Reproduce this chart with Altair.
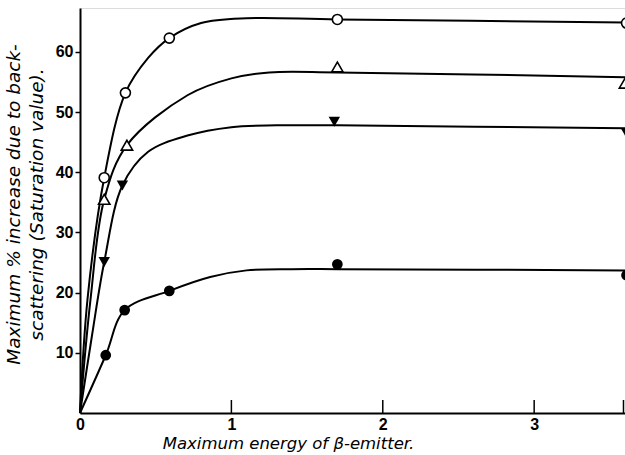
import altair as alt
import pandas as pd

# Measured points for the four absorber series (energy in MeV, % increase)
open_circle_x = [0.16, 0.30, 0.59, 1.70, 3.61]
open_circle_y = [39.1, 53.2, 62.3, 65.4, 64.8]

open_triangle_x = [0.16, 0.31, 1.70, 3.60]
open_triangle_y = [35.5, 44.5, 57.5, 54.8]

filled_triangle_x = [0.16, 0.28, 1.68, 3.61]
filled_triangle_y = [25.1, 37.8, 48.4, 46.5]

filled_circle_x = [0.17, 0.295, 0.59, 1.70, 3.61]
filled_circle_y = [9.6, 17.1, 20.3, 24.7, 22.9]

# Hand-drawn saturation curves through the points
curve_a_x = [0, 0.05, 0.16, 0.30, 0.45, 0.59, 0.80, 1.10, 1.70, 3.60]
curve_a_y = [0, 19.0, 39.1, 53.2, 59.0, 62.3, 64.8, 65.6, 65.4, 64.9]

curve_b_x = [0, 0.07, 0.16, 0.31, 0.71, 1.00, 1.25, 1.70, 3.60]
curve_b_y = [0, 19.0, 35.5, 44.5, 52.8, 55.6, 56.6, 56.6, 55.8]

curve_c_x = [0, 0.08, 0.16, 0.28, 0.45, 0.71, 1.00, 1.30, 1.70, 3.60]
curve_c_y = [0, 13.0, 25.1, 37.8, 43.4, 46.1, 47.5, 47.8, 47.8, 47.3]

curve_d_x = [0, 0.17, 0.295, 0.59, 0.86, 1.10, 1.40, 1.70, 3.60]
curve_d_y = [0, 9.6, 17.1, 20.3, 22.6, 23.7, 23.9, 23.9, 23.7]

x_tick_values = [1, 2, 3, 3.59]
x_label_values = [0, 1, 2, 3]
y_tick_values = [10, 20, 30, 40, 50, 60]

X_MAX = 3.6
Y_MAX = 67.3
W, H = 545, 405

curves = pd.concat([
    pd.DataFrame({"e": curve_a_x, "p": curve_a_y, "s": "a"}),
    pd.DataFrame({"e": curve_b_x, "p": curve_b_y, "s": "b"}),
    pd.DataFrame({"e": curve_c_x, "p": curve_c_y, "s": "c"}),
    pd.DataFrame({"e": curve_d_x, "p": curve_d_y, "s": "d"}),
])

x_enc = alt.X(
    "e:Q",
    scale=alt.Scale(domain=[0, X_MAX], nice=False, zero=False),
    axis=alt.Axis(
        values=x_label_values,
        format="d",
        ticks=False,
        grid=False,
        domainColor="black",
        domainWidth=2,
        labelFont="Liberation Sans",
        labelFontWeight="bold",
        labelFontSize=16,
        labelColor="black",
        labelPadding=3,
        labelFlush=False,
        title="Maximum energy of β-emitter.",
        titleFont="DejaVu Sans",
        titleFontStyle="italic",
        titleFontWeight="normal",
        titleFontSize=16.5,
        titleColor="black",
        titleAnchor="start",
        titleAlign="center",
        titleX=208,
        titleY=35,
        titleBaseline="alphabetic",
    ),
)
y_enc = alt.Y(
    "p:Q",
    scale=alt.Scale(domain=[0, Y_MAX], nice=False, zero=False),
    axis=alt.Axis(
        values=y_tick_values,
        format="d",
        tickSize=5,
        tickWidth=1.5,
        tickColor="black",
        grid=False,
        domainColor="black",
        domainWidth=2,
        labelFont="Liberation Sans",
        labelFontWeight="bold",
        labelFontSize=16,
        labelColor="black",
        labelPadding=2,
        title=["Maximum % increase due to back-", "scattering (Saturation value)."],
        titleFont="DejaVu Sans",
        titleFontStyle="italic",
        titleFontWeight="normal",
        titleFontSize=18.5,
        titleColor="black",
        titleLineHeight=23,
        titleAngle=-90,
        titleAlign="center",
        titleBaseline="top",
        titleAnchor="start",
        titleX=-76,
        titleY=196,
    ),
)

lines = alt.Chart(curves).mark_line(
    color="black", strokeWidth=2, interpolate="catmull-rom"
).encode(x=x_enc, y=y_enc, detail="s:N")


def pts(xs, ys, shape, filled, size):
    df = pd.DataFrame({"e": xs, "p": ys})
    return alt.Chart(df).mark_point(
        shape=shape,
        filled=filled,
        size=size,
        color="black",
        fill="black" if filled else "white",
        fillOpacity=1,
        opacity=1,
        strokeWidth=1.6,
    ).encode(x="e:Q", y="p:Q")


p1 = pts(open_circle_x, open_circle_y, "circle", False, 100)
p2 = pts(open_triangle_x, open_triangle_y, "triangle-up", False, 130)
p3 = pts(filled_triangle_x, filled_triangle_y, "triangle-down", True, 130)
p4 = pts(filled_circle_x, filled_circle_y, "circle", True, 115)

# Inward-pointing ticks on the energy axis
ticks = alt.Chart(pd.DataFrame({"e": x_tick_values})).mark_rule(
    color="black", strokeWidth=1.5
).encode(x="e:Q", y=alt.value(H), y2=alt.value(H - 13))

chart = alt.layer(lines, ticks, p1, p2, p3, p4).properties(
    width=W,
    height=H,
    autosize=alt.AutoSizeParams(type="none"),
    padding={"left": 80, "top": 8, "right": 0, "bottom": 42},
).configure_view(stroke=None).configure(background="white")

chart.save("out.html", embed_options={"renderer": "svg", "actions": False})
